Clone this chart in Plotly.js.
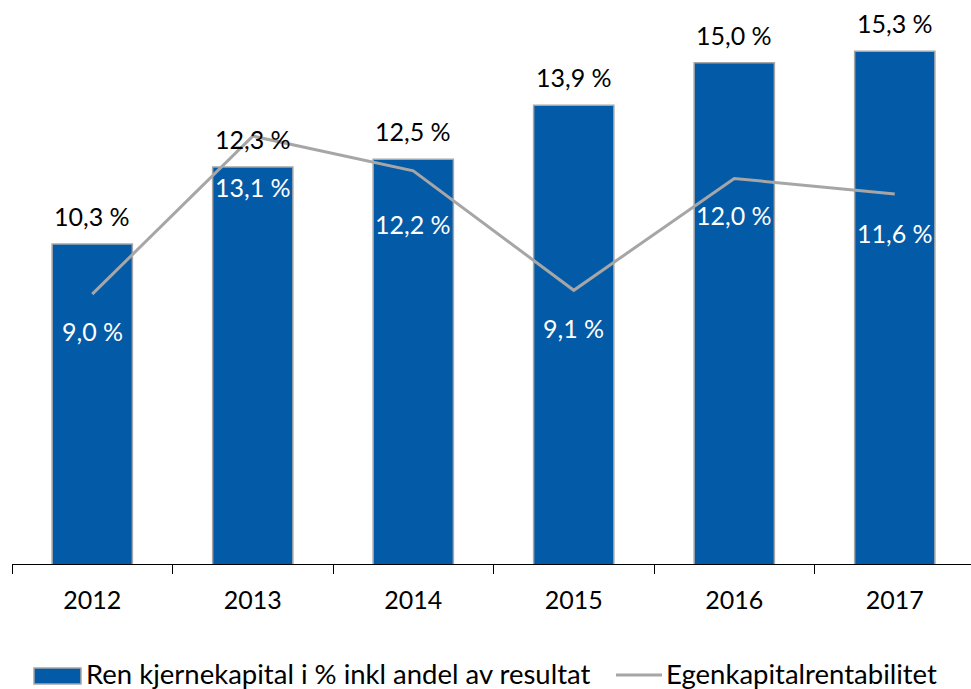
<!DOCTYPE html>
<html>
<head>
<meta charset="utf-8">
<script src="https://cdn.plot.ly/plotly-3.0.1.min.js"></script>
<style>html,body{margin:0;padding:0;background:#fff;}#chart{width:971px;height:689px;}</style>
</head>
<body>
<div id="chart"></div>
<script>
// ---- data ----
const years = ['2012', '2013', '2014', '2015', '2016', '2017'];
const kjernekapital = [10.3, 12.3, 12.5, 13.9, 15.0, 15.3];
const egenkapitalrentabilitet = [9.0, 13.1, 12.2, 9.1, 12.0, 11.6];
const barName = 'Ren kjernekapital i % inkl andel av resultat';
const lineName = 'Egenkapitalrentabilitet';

// ---- style ----
const FONT = 'Lato, "Open Sans", "DejaVu Sans", sans-serif';
const barColor = '#035AA6';
const lineColor = '#A6A6A6';
const lineLabelShift = [-37, -51, -53, -38, -37, -39];

const fmt = v => v.toFixed(1).replace('.', ',') + ' %';

const W = 971, H = 689, ML = 12, MB = 125, PH = H - MB, PW = W - ML;
const px = x => (x - ML) / PW;
const py = y => (PH - y) / PH;

const annotations = [];
years.forEach((yr, i) => {
  annotations.push({x: i, y: kjernekapital[i], xref: 'x', yref: 'y', text: fmt(kjernekapital[i]),
    showarrow: false, yanchor: 'middle', xanchor: 'center', yshift: 28,
    font: {family: FONT, size: 25, color: '#000'}});
  annotations.push({x: i, y: egenkapitalrentabilitet[i], xref: 'x', yref: 'y', text: fmt(egenkapitalrentabilitet[i]),
    showarrow: false, yanchor: 'middle', xanchor: 'center', yshift: lineLabelShift[i],
    font: {family: FONT, size: 25, color: '#fff'}});
});
// custom legend text
annotations.push({xref: 'paper', yref: 'paper', x: px(84), y: py(674), xanchor: 'left', yanchor: 'middle',
  text: barName, showarrow: false, font: {family: FONT, size: 27.5, color: '#000'}});
annotations.push({xref: 'paper', yref: 'paper', x: px(664), y: py(674), xanchor: 'left', yanchor: 'middle',
  text: lineName, showarrow: false, font: {family: FONT, size: 27.5, color: '#000'}});

const shapes = [
  {type: 'rect', xref: 'paper', yref: 'paper', x0: px(34), x1: px(81), y0: py(684), y1: py(668),
   fillcolor: barColor, line: {color: lineColor, width: 1.5}},
  {type: 'line', xref: 'paper', yref: 'paper', x0: px(616), x1: px(662), y0: py(675), y1: py(675),
   line: {color: lineColor, width: 3}}
];

const traces = [
  {type: 'bar', x: years, y: kjernekapital, name: barName,
   marker: {color: barColor, line: {color: lineColor, width: 1.5}},
   width: 0.5, hoverinfo: 'skip', cliponaxis: false},
  {type: 'scatter', mode: 'lines', x: years, y: egenkapitalrentabilitet, name: lineName,
   line: {color: lineColor, width: 3}, hoverinfo: 'skip', cliponaxis: false}
];

const layout = {
  width: W, height: H,
  margin: {l: ML, r: 0, t: 0, b: MB, pad: 0},
  paper_bgcolor: '#fff', plot_bgcolor: '#fff',
  showlegend: false,
  font: {family: FONT, size: 24, color: '#000'},
  xaxis: {type: 'category', range: [-0.5, 5.475], showline: true, linecolor: '#000', linewidth: 1,
    ticks: 'outside', tickson: 'boundaries', ticklen: 9, tickcolor: '#000', tickwidth: 1,
    ticklabelstandoff: 14,
    showgrid: false, zeroline: false, fixedrange: true,
    tickfont: {family: FONT, size: 25, color: '#000'}},
  yaxis: {range: [2, 16.63], showticklabels: false, ticks: '', showline: false,
    showgrid: false, zeroline: false, fixedrange: true},
  annotations: annotations,
  shapes: shapes
};

Plotly.newPlot('chart', traces, layout, {displayModeBar: false, staticPlot: true});
</script>
</body>
</html>
